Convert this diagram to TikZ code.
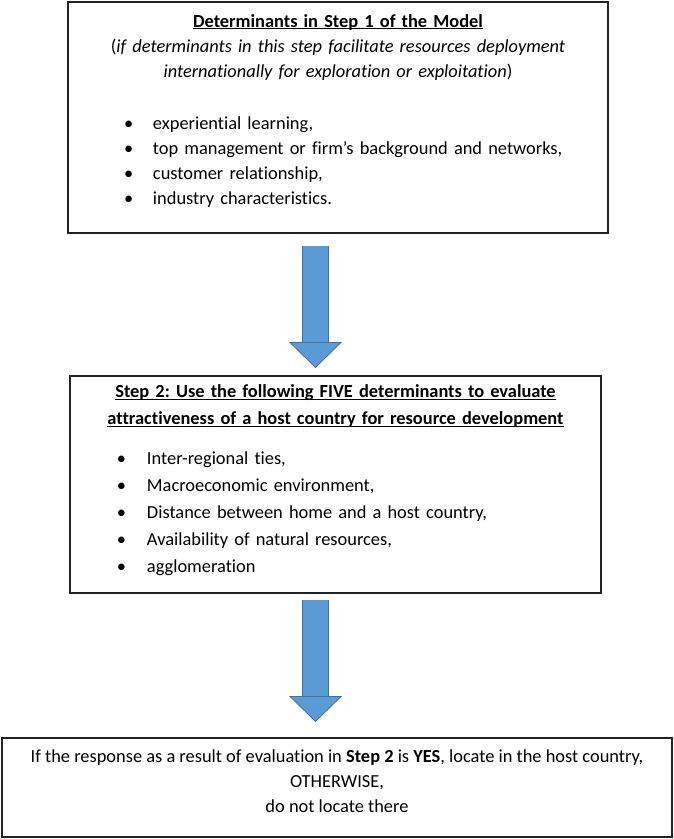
\documentclass[tikz,border=0pt]{standalone}
\usepackage{fontspec}
\setmainfont{Carlito}[Ligatures=NoCommon]
\usetikzlibrary{arrows.meta, positioning}
\definecolor{arrowblue}{RGB}{91,155,213}
\definecolor{arrowedge}{RGB}{65,113,156}
\definecolor{boxline}{RGB}{35,35,35}
\frenchspacing

% underline sitting close to the baseline
\newcommand{\ulbox}[1]{\leavevmode\setbox0\hbox{#1}\rlap{\rule[-2.4pt]{\wd0}{1.1pt}}\box0}
% bullet with indent #2 inside a slot of width #1
\newcommand{\bitem}[2]{\makebox[#1][l]{\hspace*{#2}\textbullet}}

\begin{document}
\begin{tikzpicture}[x=1pt, y=1pt,
  stepbox/.style={rectangle, draw=boxline, line width=1.3pt, fill=white, inner sep=0pt, outer sep=0pt, font=\fontsize{18.4}{25}\selectfont},
  bigarrow/.style={double=arrowblue, double distance=25.5pt, draw=arrowedge, line width=0.8pt, -{Triangle[width=53pt, length=26pt, fill=arrowblue, line width=0.8pt]}}
]
\useasboundingbox (0,0) rectangle (674,-839);
\node[stepbox, align=left, text width=540pt, minimum width=540pt, minimum height=231pt] (det) at (338,-117.5) {%
  \makebox[\hsize]{\rule{0pt}{17pt}\bfseries\ulbox{Determinants in Step 1 of the Model}}\\
  \makebox[\hsize]{(\textit{if determinants in this step facilitate resources deployment}}\\
  \makebox[\hsize]{\textit{internationally for exploration or exploitation})}\\[27pt]
  \bitem{85pt}{56pt}experiential learning,\\
  \bitem{85pt}{56pt}top management or firm’s background and networks,\\
  \bitem{85pt}{56pt}customer relationship,\\
  \bitem{85pt}{56pt}industry characteristics.\rule[-21pt]{0pt}{21pt}};
\node[stepbox, align=left, text width=531pt, minimum width=531pt, minimum height=217pt,
  font=\fontsize{18.4}{27}\selectfont, below=143pt of det, xshift=-2.5pt] (eval) {%
  \makebox[\hsize]{\rule{0pt}{15pt}\bfseries\ulbox{Step 2: Use the following FIVE determinants to evaluate}}\\
  \makebox[\hsize]{\bfseries\ulbox{attractiveness of a host country for resource development}}\\[13pt]
  \bitem{77pt}{47pt}Inter-regional ties,\\
  \bitem{77pt}{47pt}Macroeconomic environment,\\
  \bitem{77pt}{47pt}Distance between home and a host country,\\
  \bitem{77pt}{47pt}Availability of natural resources,\\
  \bitem{77pt}{47pt}agglomeration\rule[-14pt]{0pt}{14pt}};
\node[stepbox, align=center, minimum width=670pt, minimum height=99pt,
  below=145pt of eval, xshift=1.5pt] (host) {%
  \rule{0pt}{15pt}If the response as a result of evaluation in \textbf{Step 2} is \textbf{YES}, locate in the host country,\\
  OTHERWISE,\\
  do not locate there\rule[-16pt]{0pt}{16pt}};
% block arrows
\draw[bigarrow, shorten <=13pt, shorten >=8pt] ([xshift=-22.5pt]det.south) -- ([xshift=-20pt]eval.north);
\draw[bigarrow, shorten <=7pt, shorten >=16pt] ([xshift=-20pt]eval.south) -- ([xshift=-21.5pt]host.north);
\end{tikzpicture}
\end{document}
